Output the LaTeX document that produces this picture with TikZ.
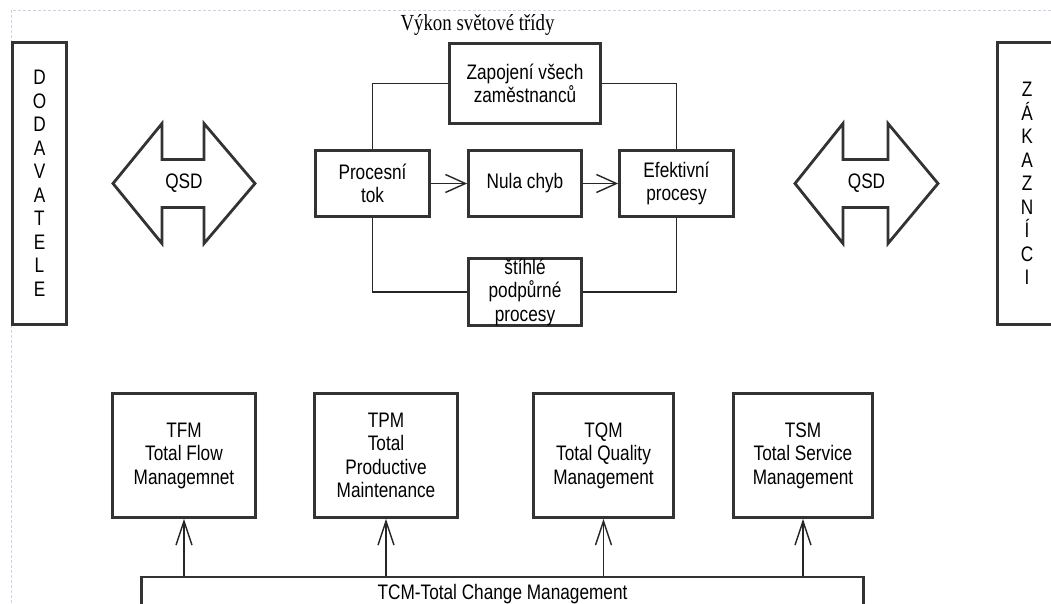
\documentclass[tikz,border=0pt]{standalone}
\usepackage{fontspec}
\setmainfont{Liberation Sans}[FakeStretch=0.82]
\newfontfamily\titlefont{Liberation Serif}[FakeStretch=0.82]
\usetikzlibrary{arrows.meta}
\definecolor{edge}{HTML}{333333}
\definecolor{guide}{HTML}{C6D3EA}

\begin{document}
\begin{tikzpicture}[x=1pt,y=-1pt,
  txt/.style={font=\fontsize{21}{23.5}\selectfont},
  box/.style={draw=edge, line width=2.8pt, fill=white, inner sep=0pt, align=center, txt},
  link/.style={line width=1.4pt, draw=black!85},
  hbarb/.style={-{Straight Barb[length=20pt,width=18pt]}},
  vbarb/.style={-{Straight Barb[length=24pt,width=16pt]}},
  fat/.style={draw=edge, line width=2.8pt, fill=white, line join=miter},
  lbl/.style={txt, inner sep=0pt}
]
\useasboundingbox (0,0) rectangle (1051,603);
\fill[white] (0,0) rectangle (1051,603);

% page guide lines
\draw[guide, line width=1pt, dash pattern=on 3pt off 2pt] (11,603) -- (11,10) -- (1051,10);

% title
\node[font=\titlefont\fontsize{23}{26}\selectfont, anchor=base, inner sep=0pt] (title) at (477.5,30) {Výkon světové třídy};

% side partners
\node[box, minimum width=54pt, minimum height=282pt] (dod) at (39.5,183.5)
  {D\\O\\D\\A\\V\\A\\T\\E\\L\\E};
\node[box, minimum width=59pt, minimum height=282pt] (zak) at (1027,183.5)
  {Z\\Á\\K\\A\\Z\\N\\Í\\C\\I};

% QSD double arrows
\draw[fat] (113,183.5) -- (162,123.5) -- (162,159.5) -- (204,159.5) -- (204,123.5)
  -- (255,183.5) -- (204,243.5) -- (204,207.5) -- (162,207.5) -- (162,243.5) -- cycle;
\node[lbl] (qsdL) at (184,183.5) {QSD};
\draw[fat] (795,183.5) -- (843,123.5) -- (843,159.5) -- (888,159.5) -- (888,123.5)
  -- (938,183.5) -- (888,243.5) -- (888,207.5) -- (843,207.5) -- (843,243.5) -- cycle;
\node[lbl] (qsdR) at (866.5,183.5) {QSD};

% world-class performance block
\node[box, minimum width=151pt, minimum height=80pt] (zap) at (525,83.5) {Zapojení všech\\zaměstnanců};
\node[box, minimum width=114pt, minimum height=66pt] (proc) at (372.5,183.5) {Procesní\\tok};
\node[box, minimum width=113pt, minimum height=66pt] (nula) at (525,183.5) {Nula chyb};
\node[box, minimum width=114pt, minimum height=66pt] (efek) at (676.5,183.5) {Efektivní\\procesy};
\node[box, minimum width=113pt, minimum height=65pt] (stih) at (525,292) {štíhlé\\podpůrné\\procesy};

\draw[link] (proc.north) |- (zap.west);
\draw[link] (zap.east) -| (efek.north);
\draw[link] (proc.south) |- (stih.west);
\draw[link] (stih.east) -| (efek.south);
\draw[link, hbarb] (proc.east) -- (nula.west);
\draw[link, hbarb] (nula.east) -- (efek.west);

% management pillars
\node[box, minimum width=143pt, minimum height=124pt] (tfm) at (184,455.5) {TFM\\Total Flow\\Managemnet};
\node[box, minimum width=143pt, minimum height=124pt] (tpm) at (386,455.5) {TPM\\Total\\Productive\\Maintenance};
\node[box, minimum width=140pt, minimum height=124pt] (tqm) at (603.5,455.5) {TQM\\Total Quality\\Management};
\node[box, minimum width=139pt, minimum height=124pt] (tsm) at (803,455.5) {TSM\\Total Service\\Management};
\node[box, minimum width=722pt, minimum height=34pt] (tcm) at (502.5,594) {TCM-Total Change Management};

\foreach \p in {tfm,tpm,tqm,tsm}
  \draw[link, vbarb] (\p.south |- tcm.north) -- (\p.south);
\end{tikzpicture}
\end{document}
